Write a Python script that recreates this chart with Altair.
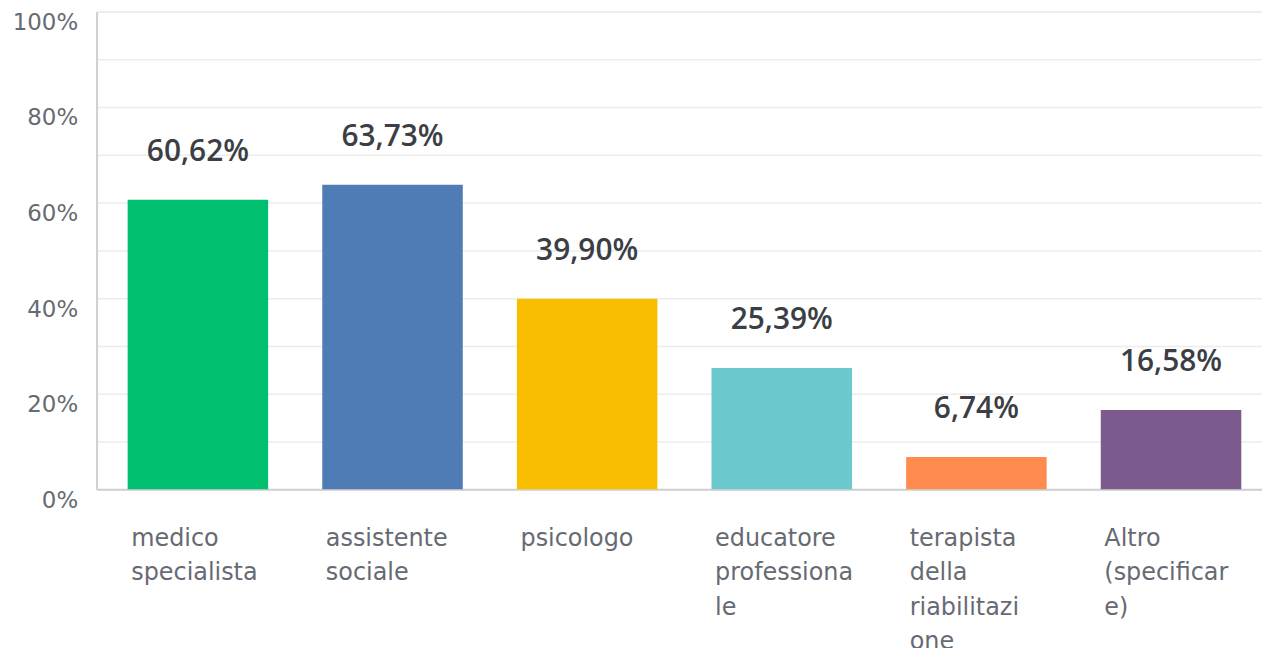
import altair as alt
import pandas as pd

categories = ["medico specialista", "assistente sociale", "psicologo",
              "educatore professionale", "terapista della riabilitazione",
              "Altro (specificare)"]
label_lines = ["medico|specialista", "assistente|sociale", "psicologo",
               "educatore|professiona|le", "terapista|della|riabilitazi|one",
               "Altro|(specificar|e)"]
values = [60.62, 63.73, 39.90, 25.39, 6.74, 16.58]
colors = ["#00bf6f", "#507cb6", "#f9be00", "#6bc8cd", "#ff8b4f", "#7d5a8e"]
y_ticks = [0, 10, 20, 30, 40, 50, 60, 70, 80, 90, 100]

df = pd.DataFrame({
    "cat": label_lines,
    "value": values,
    "text": [f"{v:.2f}%".replace(".", ",") for v in values],
})

AXIS_FONT = "DejaVu Sans"
VALUE_FONT = "Open Sans"
PLOT_H = 480

x = alt.X("cat:N", sort=label_lines, title=None,
          scale=alt.Scale(paddingInner=0.278, paddingOuter=0.133, align=0.6),
          axis=alt.Axis(labels=False, ticks=False, domain=True,
                        domainColor="#d0d0d0", domainWidth=2, grid=False))

y = alt.Y("value:Q", title=None,
          scale=alt.Scale(domain=[0, 100], nice=False),
          axis=alt.Axis(values=y_ticks,
                        labelExpr="datum.value % 20 == 0 ? datum.value + '%' : ''",
                        labelFontSize=23, labelColor="#666a73", labelFont=AXIS_FONT,
                        labelPadding=19, labelBaseline="middle", labelOffset=11,
                        ticks=False, domain=True, domainColor="#d0d0d0",
                        domainWidth=2, grid=True, gridColor="#ececec",
                        gridWidth=1.5))

bars = alt.Chart(df).mark_bar().encode(
    x=x, y=y,
    color=alt.Color("cat:N", sort=label_lines,
                    scale=alt.Scale(domain=label_lines, range=colors),
                    legend=None),
)

texts = alt.Chart(df).mark_text(
    baseline="bottom", dy=-33, fontSize=30, fontWeight=600,
    font=VALUE_FONT, color="#3b3f45"
).encode(x=alt.X("cat:N", sort=label_lines), y="value:Q", text="text:N")

xlabels = alt.Chart(df).mark_text(
    align="left", baseline="top", dx=-67, dy=38, fontSize=24,
    font=AXIS_FONT, color="#666a73", lineBreak="|", lineHeight=34.5
).encode(x=alt.X("cat:N", sort=label_lines), y=alt.value(PLOT_H), text="cat:N")

chart = alt.layer(bars, texts, xlabels).properties(
    width=1171, height=PLOT_H,
    padding={"left": 4, "top": 2, "right": 0, "bottom": 0},
).configure_view(stroke=None).configure(background="white")

chart.save("out.html", embed_options={"renderer": "svg", "actions": False})
